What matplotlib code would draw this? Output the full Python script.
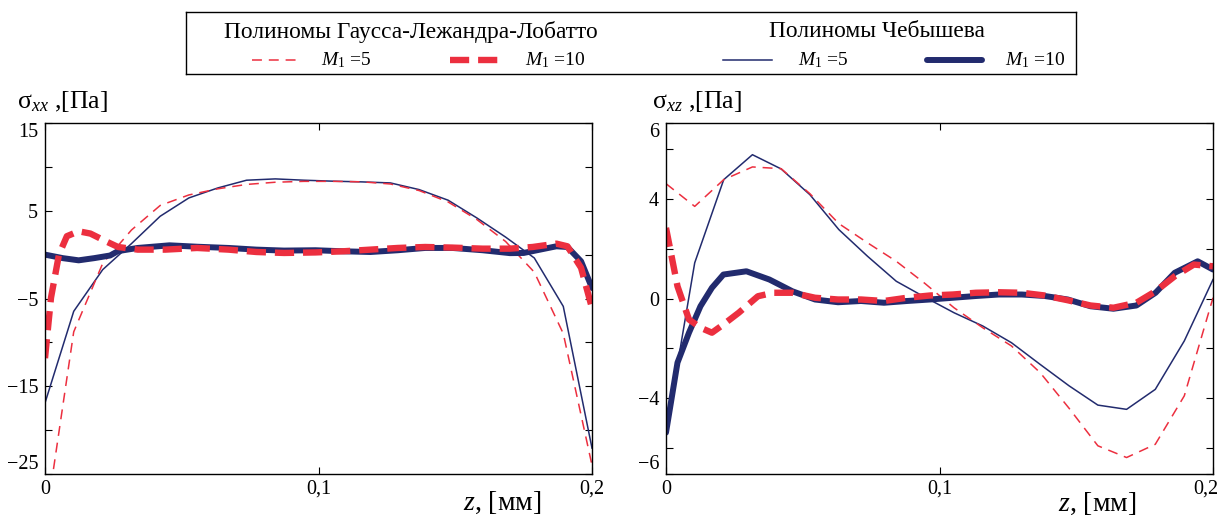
import matplotlib
matplotlib.use('Agg')
import matplotlib.pyplot as plt
import matplotlib.transforms as mtransforms

plt.rcParams['font.family'] = ['Liberation Serif', 'DejaVu Serif']
plt.rcParams['mathtext.fontset'] = 'custom'
plt.rcParams['mathtext.rm'] = 'Liberation Serif'
plt.rcParams['mathtext.it'] = 'Liberation Serif:italic'
plt.rcParams['axes.unicode_minus'] = True

NAVY = '#222b6e'
RED = '#ec2f3f'

# uniform grid used by the M1=5 curves
z5 = [0.0, 0.0105, 0.0211, 0.0316, 0.0421, 0.0526, 0.0632, 0.0737, 0.0842, 0.0947,
      0.1053, 0.1158, 0.1263, 0.1368, 0.1474, 0.1579, 0.1684, 0.1789, 0.1895, 0.2]

# sigma_xx
sxx_cheb5 = [-16.9, -6.46, -1.71, 1.25, 4.37, 6.46, 7.6, 8.48, 8.63, 8.48,
             8.37, 8.29, 8.17, 7.41, 6.2, 4.18, 2.0, -0.38, -5.9, -22.05]
sxx_gll5 = [-31.0, -8.8, -1.0, 2.8, 5.6, 6.8, 7.5, 8.0, 8.25, 8.35,
            8.35, 8.3, 8.05, 7.3, 6.0, 4.0, 1.5, -2.0, -9.0, -24.0]

z_sxx_cheb10 = [0.0, 0.0065, 0.0123, 0.018, 0.0238, 0.0267, 0.0339, 0.0455, 0.0556, 0.0671,
                0.0773, 0.0874, 0.0989, 0.109, 0.119, 0.129, 0.139, 0.149, 0.16, 0.17,
                0.175, 0.181, 0.187, 0.191, 0.196, 0.2]
sxx_cheb10 = [0.0, -0.4, -0.65, -0.4, -0.1, 0.4, 0.76, 1.06, 0.9, 0.76,
              0.57, 0.46, 0.5, 0.38, 0.3, 0.5, 0.76, 0.76, 0.5, 0.17,
              0.19, 0.57, 0.95, 0.87, -0.76, -3.8]

z_sxx_gll10 = [0.0, 0.0022, 0.0051, 0.008, 0.0123, 0.0166, 0.0224, 0.0267, 0.0339, 0.0440,
               0.0556, 0.0671, 0.0773, 0.0874, 0.0989, 0.109, 0.119, 0.129, 0.139, 0.149,
               0.16, 0.17, 0.1783, 0.187, 0.191, 0.196, 0.2]
sxx_gll10 = [-11.8, -4.9, 0.0, 2.1, 2.66, 2.4, 1.5, 0.87, 0.57, 0.57,
             0.76, 0.57, 0.3, 0.19, 0.25, 0.38, 0.57, 0.76, 0.87, 0.8,
             0.68, 0.68, 0.87, 1.25, 0.95, -1.5, -6.1]

# sigma_xz
sxz_cheb5 = [-5.37, 1.43, 4.76, 5.76, 5.19, 4.16, 2.76, 1.69, 0.69, 0.05,
             -0.57, -1.1, -1.77, -2.64, -3.5, -4.27, -4.44, -3.64, -1.7, 0.76]
sxz_gll5 = [4.6, 3.69, 4.76, 5.27, 5.2, 4.2, 3.0, 2.23, 1.49, 0.6,
            -0.37, -1.17, -1.9, -2.97, -4.4, -5.9, -6.37, -5.84, -3.9, 0.03]

z_sxz_cheb10 = [0.0, 0.0042, 0.0084, 0.0126, 0.0168, 0.021, 0.0294, 0.0378, 0.0462, 0.0545,
                0.0629, 0.0713, 0.0797, 0.0881, 0.0965, 0.1049, 0.1133, 0.1217, 0.1301, 0.1385,
                0.1469, 0.1552, 0.1636, 0.172, 0.179, 0.186, 0.1944, 0.2]
sxz_cheb10 = [-5.37, -2.57, -1.37, -0.31, 0.43, 0.96, 1.09, 0.76, 0.29, -0.04,
              -0.15, -0.1, -0.17, -0.1, -0.04, 0.03, 0.1, 0.16, 0.16, 0.1,
              -0.04, -0.31, -0.41, -0.28, 0.23, 1.03, 1.49, 1.16]

z_sxz_gll10 = [0.0, 0.0042, 0.0084, 0.0126, 0.0168, 0.021, 0.0266, 0.0336, 0.0392, 0.0462,
               0.0545, 0.0629, 0.0713, 0.0797, 0.0881, 0.0965, 0.1049, 0.1133, 0.1217, 0.1301,
               0.1385, 0.1469, 0.1552, 0.1636, 0.172, 0.179, 0.186, 0.193, 0.2]
sxz_gll10 = [2.83, 0.49, -0.84, -1.17, -1.37, -1.04, -0.57, 0.09, 0.23, 0.23,
             0.03, -0.04, -0.04, -0.1, 0.03, 0.12, 0.16, 0.23, 0.25, 0.23,
             0.12, -0.07, -0.28, -0.37, -0.17, 0.29, 0.89, 1.36, 1.29]

x_ticks = [0, 0.1, 0.2]
x_ticklabels = ['0', '0,1', '0,2']
sxx_ticks = [-25, -20, -15, -10, -5, 0, 5, 10, 15]
sxx_ticklabels = ['\u221225', '', '\u221215', '', '\u22125', '', '5', '', '15']
sxz_ticks = [-7.03, -6, -4, -2, 0, 2, 4, 6, 7.03]
sxz_ticklabels = ['\u22126', '', '\u22124', '', '0', '', '4', '', '6']

thin_dash = (0, (6.5, 4.5))
thick_dash = (0, (3.0, 1.4))

fig = plt.figure(figsize=(12.2, 5.18), dpi=100)
ax1 = fig.add_axes([45 / 1220, 44 / 518, 547 / 1220, 351 / 518])
ax2 = fig.add_axes([666 / 1220, 44 / 518, 547 / 1220, 351 / 518])


def draw(ax, g5, c5, zc10, c10, zg10, g10):
    ax.plot(z5, c5, color=NAVY, lw=1.1)
    ax.plot(z5, g5, color=RED, lw=1.1, ls=thin_dash)
    ax.plot(zc10, c10, color=NAVY, lw=4.3, solid_capstyle='round')
    ax.plot(zg10, g10, color=RED, lw=4.6, ls=thick_dash)
    ax.set_xlim(0, 0.2)
    ax.set_xticks(x_ticks)
    ax.set_xticklabels(x_ticklabels)
    ax.tick_params(direction='in', top=True, right=True, length=5, width=0.8,
                   labelsize=14.5)
    ax.tick_params(axis='x', pad=4)
    ax.tick_params(axis='y', pad=5)
    for s in ax.spines.values():
        s.set_linewidth(1.0)


def edge_labels(ax):
    labs = ax.get_yticklabels()
    labs[0].set_va('bottom')
    labs[-1].set_va('top')


draw(ax1, sxx_gll5, sxx_cheb5, z_sxx_cheb10, sxx_cheb10, z_sxx_gll10, sxx_gll10)
ax1.set_ylim(-25, 15)
ax1.set_yticks(sxx_ticks)
ax1.set_yticklabels(sxx_ticklabels)
edge_labels(ax1)

draw(ax2, sxz_gll5, sxz_cheb5, z_sxz_cheb10, sxz_cheb10, z_sxz_gll10, sxz_gll10)
ax2.set_ylim(-7.03, 7.03)
ax2.set_yticks(sxz_ticks)
ax2.set_yticklabels(sxz_ticklabels)
edge_labels(ax2)
last = ax2.get_xticklabels()[-1]
last.set_transform(last.get_transform() +
                   mtransforms.ScaledTranslation(-7 / 100, 0, fig.dpi_scale_trans))

fig.text(17 / 1220, 1 - 108 / 518, r'$\mathrm{\sigma}_{xx}$ ,[Па]', fontsize=18.5)
fig.text(652 / 1220, 1 - 108 / 518, r'$\mathrm{\sigma}_{xz}$ ,[Па]', fontsize=18.5)
fig.text(463 / 1220, 1 - 510 / 518, r'$z$, [мм]', fontsize=20)
fig.text(1058 / 1220, 1 - 511 / 518, r'$z$, [мм]', fontsize=20)

# legend box
lg = fig.add_axes([186 / 1220, 1 - 74 / 518, 890 / 1220, 62 / 518])
lg.set_xlim(186, 1076)
lg.set_ylim(74, 12)
lg.set_xticks([])
lg.set_yticks([])
for s in lg.spines.values():
    s.set_linewidth(1.0)
lg.text(411, 32, 'Полиномы Гаусса-Лежандра-Лобатто', fontsize=16.8, ha='center', va='center')
lg.text(877, 32, 'Полиномы Чебышева', fontsize=16.8, ha='center', va='center')
row = 60
lg.plot([252, 301], [row, row], color=RED, lw=1.1, ls=thin_dash)
lg.plot([450, 499], [row, row], color=RED, lw=4.6, ls=thick_dash)
lg.plot([723, 772], [row, row], color=NAVY, lw=1.1)
lg.plot([927, 982], [row, row], color=NAVY, lw=4.3, solid_capstyle='round')
for xp, lab in [(321, '=5'), (525, '=10'), (798, '=5'), (1005, '=10')]:
    lg.text(xp, row, r'$M_1$ ' + lab, fontsize=14, ha='left', va='center')

fig.savefig('out.png', dpi=100)
